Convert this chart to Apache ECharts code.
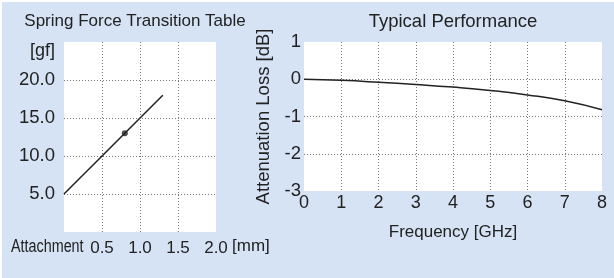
<!DOCTYPE html>
<html lang="en">
  <head>
    <meta charset="UTF-8">
    <title>Spring Force / Typical Performance</title>
    <style>
      html, body { margin: 0; padding: 0; background: #fff; }
      #bg { position: absolute; left: 2px; top: 2px; width: 612px; height: 276px; background: #d5e3f5; }
      #chart { position: absolute; left: 0; top: 0; width: 614px; height: 278px; }
    </style>
  </head>
  <body>
    <div id="bg"></div>
    <div id="chart"></div>
  </body>
  <script src="https://cdn.jsdelivr.net/npm/echarts@6/dist/echarts.min.js"></script>
  <script>
    // 左图：弹簧力
    const attachX = [0, 1.3]
    const forceY = [5, 18]
    const markX = [0.8]
    const markY = [13]
    // 右图：衰减
    const freqX = [0, 1, 2, 3, 4, 5, 6, 7, 8]
    const lossY = [0, -0.03, -0.08, -0.14, -0.21, -0.3, -0.42, -0.58, -0.82]

    const font = 'Liberation Sans, Arial, sans-serif'
    const textColor = '#222'
    const gridLine = { show: true, showMinLine: false, showMaxLine: false, lineStyle: { color: '#777', type: [1, 2], width: 1 } }

    const chart = echarts.init(document.getElementById('chart'))
    chart.setOption({
      backgroundColor: 'transparent',
      animation: false,
      textStyle: { fontFamily: font },
      title: [
        { text: 'Spring Force Transition Table', left: 135, top: 13, padding: 0, textAlign: 'center',
          textStyle: { fontSize: 17, fontWeight: 'normal', color: textColor, fontFamily: font } },
        { text: 'Typical Performance', left: 453, top: 12, padding: 0, textAlign: 'center',
          textStyle: { fontSize: 18.5, fontWeight: 'normal', color: textColor, fontFamily: font } }
      ],
      grid: [
        { left: 64, top: 42, width: 152, height: 190, show: true, backgroundColor: '#fff', borderWidth: 0 },
        { left: 304, top: 42, width: 298, height: 149, show: true, backgroundColor: '#fff', borderWidth: 0 }
      ],
      xAxis: [
        {
          gridIndex: 0, type: 'value', min: 0, max: 2, interval: 0.5,
          axisLine: { show: false }, axisTick: { show: false }, splitLine: gridLine,
          axisLabel: { margin: 8, fontSize: 17, color: textColor, formatter: v => v === 0 ? '' : v.toFixed(1) }
        },
        {
          gridIndex: 1, type: 'value', min: 0, max: 8, interval: 1,
          axisLine: { show: false }, axisTick: { show: false }, splitLine: gridLine,
          axisLabel: { margin: 3, fontSize: 18, color: textColor },
          name: 'Frequency [GHz]', nameLocation: 'middle', nameGap: 33,
          nameTextStyle: { fontSize: 17, color: textColor }
        }
      ],
      yAxis: [
        {
          gridIndex: 0, type: 'value', min: 0, max: 25, interval: 5,
          axisLine: { show: false }, axisTick: { show: false }, splitLine: gridLine,
          axisLabel: { margin: 9, fontSize: 18.5, color: textColor, formatter: v => (v === 0 || v === 25) ? '' : v.toFixed(1) }
        },
        {
          gridIndex: 1, type: 'value', min: -3, max: 1, interval: 1,
          axisLine: { show: false }, axisTick: { show: false }, splitLine: gridLine,
          axisLabel: { margin: 3, fontSize: 18.5, color: textColor },
          name: 'Attenuation Loss [dB]', nameLocation: 'middle', nameRotate: 90, nameGap: 31,
          nameTextStyle: { fontSize: 18.5, color: textColor }
        }
      ],
      graphic: [
        { type: 'text', left: 30, top: 42, style: { text: '[gf]', fontSize: 18, fill: textColor, fontFamily: font } },
        { type: 'text', x: 11, y: 238, scaleX: 0.82, style: { text: 'Attachment', fontSize: 17.5, fill: textColor, fontFamily: font } },
        { type: 'text', left: 232, top: 238, style: { text: '[mm]', fontSize: 17, fill: textColor, fontFamily: font } }
      ],
      series: [
        {
          type: 'line', xAxisIndex: 0, yAxisIndex: 0, showSymbol: false,
          data: attachX.map((x, i) => [x, forceY[i]]),
          lineStyle: { color: '#222', width: 1.5 }
        },
        {
          type: 'scatter', xAxisIndex: 0, yAxisIndex: 0, symbolSize: 6,
          data: markX.map((x, i) => [x, markY[i]]),
          itemStyle: { color: '#222' }
        },
        {
          type: 'line', xAxisIndex: 1, yAxisIndex: 1, showSymbol: false, smooth: true,
          data: freqX.map((x, i) => [x, lossY[i]]),
          lineStyle: { color: '#222', width: 1.5 }
        }
      ]
    })
  </script>
</html>
